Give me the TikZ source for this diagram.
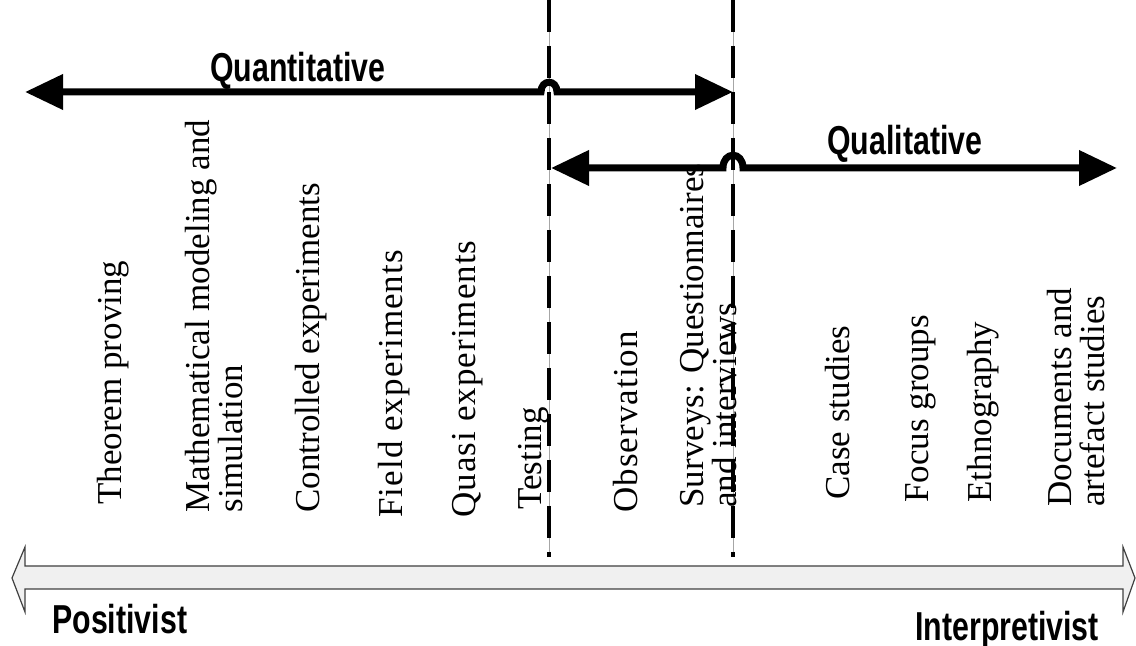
\documentclass[tikz,border=0pt]{standalone}
\usepackage{fontspec}
\setmainfont{Liberation Serif}
\newfontfamily\lblfont[FakeStretch=0.75]{Liberation Sans}
\usetikzlibrary{arrows.meta}
\begin{document}
\begin{tikzpicture}[x=0.5pt,y=-0.5pt,
  method/.style={rotate=90, anchor=north west, inner sep=0pt, align=left,
    font=\fontsize{17.5}{16.5}\selectfont},
  heading/.style={anchor=base west, inner sep=0pt,
    font=\lblfont\bfseries\fontsize{20.2}{24}\selectfont},
  spanarrow/.style={line width=3.5pt,
    {Triangle[length=19pt,width=17pt]}-{Triangle[length=19pt,width=17pt]}},
  divider/.style={line width=2pt, dash pattern=on 16pt off 7pt},
  hair/.style={line width=0.4pt, black!35},
  spectrum/.style={draw=black!75, fill=black!6, line width=0.6pt}]
\useasboundingbox (0,0) rectangle (1136,646);

% spectrum arrow
\draw[spectrum] (12,578) -- (25,547) -- (25,566) -- (1123,566) -- (1123,547)
  -- (1135,578) -- (1123,612) -- (1123,589) -- (25,589) -- (25,612) -- cycle;

% dividers
\coordinate (d1t) at (549,0);   \coordinate (d1b) at (549,557);
\coordinate (d2t) at (733,0);   \coordinate (d2b) at (733,557);
\draw[hair] (d1t) -- (d1b);
\draw[hair] (d2t) -- (d2b);
\draw[divider] (d1t) -- (d1b);
\draw[divider] (d2t) -- (d2b);

% range arrows
\coordinate (qnL) at (25,92);  \coordinate (qnR) at (733,92);
\coordinate (qlL) at (551,168); \coordinate (qlR) at (1117,168);
\draw[spanarrow] (qnL) -- (541,92) .. controls (541,79) and (557,79) .. (557,92) -- (qnR);
\draw[spanarrow] (qlL) -- (723,168) .. controls (723,151) and (743,151) .. (743,168) -- (qlR);

% headings
\node[heading] (quant) at (210,82) {Quantitative};
\node[heading] (qual) at (827,155) {Qualitative};
\node[heading] (pos) at (52,633) {Positivist};
\node[heading] (int) at (915,640) {Interpretivist};

% methods
\node[method] (m1) at (97,505) {Theorem proving};
\node[method] (m2) at (185,513) {Mathematical modeling and\\simulation};
\node[method] (m3) at (295,513) {Controlled experiments};
\node[method] (m4) at (378,518) {\addfontfeature{LetterSpace=3}Field experiments};
\node[method] (m5) at (452,518) {\addfontfeature{LetterSpace=3}Quasi experiments};
\node[method] (m6) at (518,510) {Testing};
\node[method] (m7) at (613,513) {\addfontfeature{LetterSpace=3}Observation};
\node[method] (m8) at (680,508) {Surveys: Questionnaires\\and interviews};
\node[method] (m9) at (825,500) {Case studies};
\node[method] (m10) at (905,503) {Focus groups};
\node[method] (m11) at (967,503) {Ethnography};
\node[method] (m12) at (1047,507) {Documents and\\artefact studies};
\end{tikzpicture}
\end{document}
